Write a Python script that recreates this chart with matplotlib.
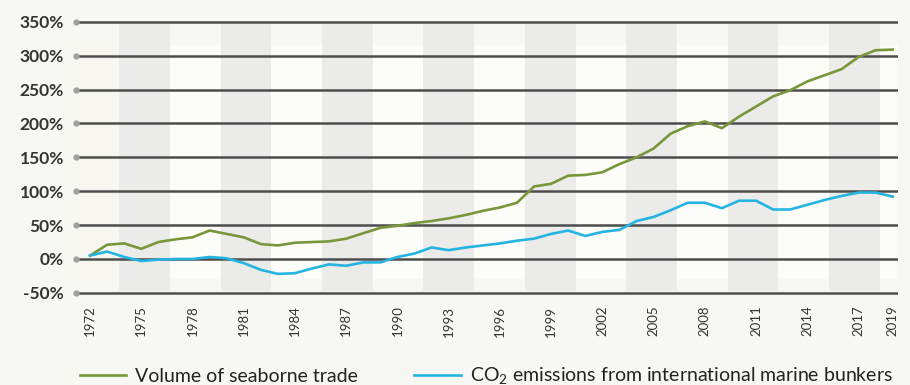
import numpy as np
import matplotlib
matplotlib.use('Agg')
import matplotlib.pyplot as plt
from matplotlib.lines import Line2D

plt.rcParams['font.family'] = ['Lato', 'DejaVu Sans']
plt.rcParams['mathtext.fontset'] = 'custom'
plt.rcParams['mathtext.rm'] = 'Lato'
plt.rcParams['mathtext.default'] = 'rm'

years = list(range(1972, 2020))

# growth since 1972, in percent
seaborne_trade = [5, 21, 23, 15, 25, 29, 32, 42, 37, 32,
                  22, 20, 24, 25, 26, 30, 38, 46, 49, 53,
                  56, 60, 65, 71, 76, 83, 107, 111, 123, 124,
                  128, 140, 150, 163, 185, 196, 203, 193, 210, 225,
                  240, 249, 262, 271, 280, 298, 308, 309]
co2_bunkers = [5, 11, 3, -3, -1, 0, 0, 3, 1, -6,
               -16, -22, -21, -14, -8, -10, -5, -5, 3, 8,
               17, 13, 17, 20, 23, 27, 30, 37, 42, 34,
               40, 43, 56, 62, 72, 83, 83, 75, 86, 86,
               73, 73, 80, 87, 93, 98, 98, 92]

tick_years = [1972, 1975, 1978, 1981, 1984, 1987, 1990, 1993, 1996,
              1999, 2002, 2005, 2008, 2011, 2014, 2017, 2019]
y_ticks = [-50, 0, 50, 100, 150, 200, 250, 300, 350]

series_labels = ['Volume of seaborne trade',
                 r'CO$_2$ emissions from international marine bunkers']
green = '#78973a'
blue = '#24b4e2'
bg = '#f7f7f3'

fig = plt.figure(figsize=(9.1, 3.85), dpi=100, facecolor=bg)
ax = fig.add_axes([75 / 910, 85 / 385, 823 / 910, 285 / 385])
ax.set_facecolor(bg)
ax.set_xlim(1971.12, 2019.31)
ax.set_ylim(-60.5, 360)

# alternating background columns, three years wide
step, width = 5.937, 2.968
start = 1973.715
ax.axvspan(1971.12, start, ymin=(-29.5 + 60.5) / 420.5, ymax=(316 + 60.5) / 420.5,
           color='#f8f6f0', lw=0, zorder=0)
for i in range(8):
    x0 = start + i * step
    ax.axvspan(x0, x0 + width, ymin=(-47 + 60.5) / 420.5, ymax=(346 + 60.5) / 420.5,
               color='#ebebea', lw=0, zorder=1)
    x1 = x0 + width
    x2 = min(x1 + width, 2019.31)
    ax.axvspan(x1, x2, ymin=(-29.5 + 60.5) / 420.5, ymax=(316 + 60.5) / 420.5,
               color='#fcfcf9', lw=0, zorder=0)

for v in y_ticks:
    ax.axhline(v, color='#4d4d4d', lw=1.8, zorder=2)
ax.plot([1971.18] * len(y_ticks), y_ticks, 'o', ms=3.5, color='#a0a0a0',
        mec='#a0a0a0', zorder=3, clip_on=False)

ax.plot(years, seaborne_trade, color=green, lw=1.9, zorder=4)
ax.plot(years, co2_bunkers, color=blue, lw=1.9, zorder=4)

ax.set_yticks(y_ticks)
ax.set_yticklabels([f'{v}%' for v in y_ticks], fontsize=12.5, fontweight='bold',
                   color='#333333')
ax.set_xticks(tick_years)
ax.set_xticklabels([str(y) for y in tick_years], rotation=90, fontsize=9.5,
                   color='#333333')
ax.tick_params(axis='y', length=0, pad=8)
ax.tick_params(axis='x', length=0, pad=4)
for s in ax.spines.values():
    s.set_visible(False)

handles = [Line2D([], [], color=green, lw=1.9), Line2D([], [], color=blue, lw=1.9)]
fig.legend(handles, series_labels, loc='center', bbox_to_anchor=(486 / 910, 1 - 376 / 385),
           ncol=2, frameon=False, fontsize=14, handlelength=2.4, handletextpad=0.45,
           columnspacing=2.9, labelcolor='#222222')

fig.savefig('out.png', dpi=100, facecolor=bg)
